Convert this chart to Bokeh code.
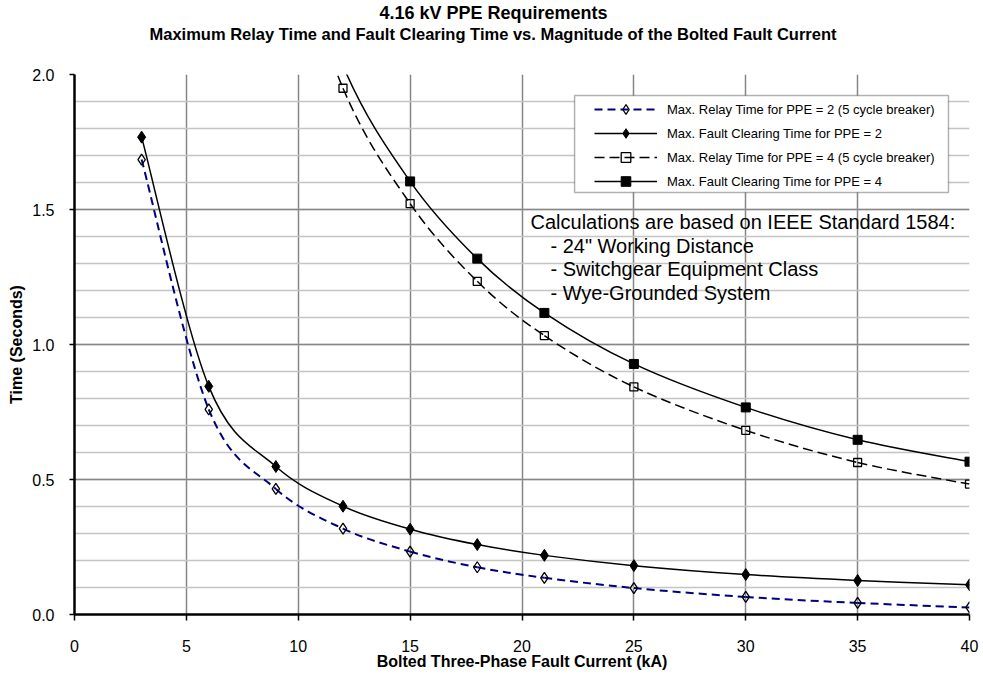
import numpy as np
from bokeh.plotting import figure
from bokeh.models import (Range1d, SingleIntervalTicker, Legend, LegendItem, Label,
                          Title, BoxAnnotation, NumeralTickFormatter)
from bokeh.embed import file_html
from bokeh.resources import INLINE

# ---------------- data ----------------
fault_current_ka = [3, 6, 9, 12, 15, 18, 21, 25, 30, 35, 40]
relay_time_ppe2 = [1.685, 0.760, 0.465, 0.318, 0.233, 0.175, 0.136, 0.098, 0.065, 0.043, 0.026]
clearing_time_ppe2 = [1.768, 0.845, 0.548, 0.401, 0.316, 0.259, 0.219, 0.181, 0.148, 0.126, 0.110]

fault_current_ka_ppe4 = [9, 12, 15, 18, 21, 25, 30, 35, 40]
relay_time_ppe4 = [2.68, 1.949, 1.522, 1.234, 1.033, 0.843, 0.682, 0.563, 0.483]
clearing_time_ppe4 = [2.76, 2.032, 1.604, 1.318, 1.117, 0.928, 0.767, 0.647, 0.566]

series_labels = [
    "Max. Relay Time for PPE = 2 (5 cycle breaker)",
    "Max. Fault Clearing Time for PPE = 2",
    "Max. Relay Time for PPE = 4 (5 cycle breaker)",
    "Max. Fault Clearing Time for PPE = 4",
]
title_lines = [
    "4.16 kV PPE Requirements",
    "Maximum Relay Time and Fault Clearing Time vs. Magnitude of the Bolted Fault Current",
]
note_lines = [
    "Calculations are based on IEEE Standard 1584:",
    "- 24\" Working Distance",
    "- Switchgear Equipment Class",
    "- Wye-Grounded System",
]
x_title = "Bolted Three-Phase Fault Current (kA)"
y_title = "Time (Seconds)"

FONT = "Liberation Sans"


def smooth_segments(xs, ys):
    """Cubic Bezier control points (Catmull-Rom style, like a smoothed spreadsheet line)."""
    x = np.asarray(xs, float)
    y = np.asarray(ys, float)
    n = len(x)
    xp = np.concatenate([[x[0]], x, [x[-1]]])
    yp = np.concatenate([[y[0]], y, [y[-1]]])
    return dict(
        x0=x[:-1], y0=y[:-1], x1=x[1:], y1=y[1:],
        cx0=x[:-1] + (xp[2:n + 1] - xp[0:n - 1]) / 6.0,
        cy0=y[:-1] + (yp[2:n + 1] - yp[0:n - 1]) / 6.0,
        cx1=x[1:] - (xp[3:n + 2] - xp[1:n]) / 6.0,
        cy1=y[1:] - (yp[3:n + 2] - yp[1:n]) / 6.0,
    )


p = figure(width=983, height=679, output_backend="svg", toolbar_location=None,
           title=None, x_range=Range1d(0, 40), y_range=Range1d(0, 2),
           min_border_left=74, min_border_right=14, min_border_top=74, min_border_bottom=65)
p.outline_line_color = None
p.background_fill_color = "white"
p.border_fill_color = "white"

# axes
p.xaxis.ticker = SingleIntervalTicker(interval=5, num_minor_ticks=0)
p.yaxis.ticker = SingleIntervalTicker(interval=0.5, num_minor_ticks=5)
p.yaxis.formatter = NumeralTickFormatter(format="0.0")
for ax in (p.xaxis[0], p.yaxis[0]):
    ax.axis_line_color = "black"
    ax.axis_line_width = 2.5
    ax.major_tick_line_color = "black"
    ax.major_tick_line_width = 1.5
    ax.major_tick_in = 0
    ax.minor_tick_line_color = None
    ax.major_label_text_font = FONT
    ax.major_label_text_font_size = "16px"
    ax.major_label_text_color = "black"
    ax.axis_label_text_font = FONT
    ax.axis_label_text_font_size = "16px"
    ax.axis_label_text_font_style = "bold"
    ax.axis_label_text_color = "black"
p.xaxis.major_tick_out = 6
p.yaxis.major_tick_out = 5
p.xaxis.major_label_standoff = 19
p.yaxis.major_label_standoff = 15
p.xaxis.axis_label = x_title
p.yaxis.axis_label = y_title
p.xaxis.axis_label_standoff = -2
p.yaxis.axis_label_standoff = 4

# grid
p.xgrid.grid_line_color = "#868686"
p.xgrid.grid_line_width = 1.5
p.ygrid.grid_line_color = "#868686"
p.ygrid.grid_line_width = 1.5
p.ygrid.minor_grid_line_color = "#c4c4c4"
p.ygrid.minor_grid_line_width = 1.5

# curves
s_r2 = smooth_segments(fault_current_ka, relay_time_ppe2)
s_c2 = smooth_segments(fault_current_ka, clearing_time_ppe2)
s_r4 = smooth_segments(fault_current_ka_ppe4, relay_time_ppe4)
s_c4 = smooth_segments(fault_current_ka_ppe4, clearing_time_ppe4)

l_r2 = p.bezier(line_color="#000080", line_width=2, line_dash="8 5", **s_r2)
l_c2 = p.bezier(line_color="black", line_width=1.5, **s_c2)
l_r4 = p.bezier(line_color="black", line_width=1.5, line_dash="10 5", **s_r4)
l_c4 = p.bezier(line_color="black", line_width=1.5, **s_c4)

m_r2 = p.scatter(fault_current_ka, relay_time_ppe2, marker="diamond", size=11,
                 fill_color=None, line_color="black", line_width=1.3)
m_c2 = p.scatter(fault_current_ka, clearing_time_ppe2, marker="diamond", size=12,
                 fill_color="black", line_color="black", line_width=1)
m_r4 = p.scatter(fault_current_ka_ppe4, relay_time_ppe4, marker="square", size=8,
                 fill_color=None, line_color="black", line_width=1.3)
m_c4 = p.scatter(fault_current_ka_ppe4, clearing_time_ppe4, marker="square", size=9,
                 fill_color="black", line_color="black", line_width=1)

# legend frame
box = BoxAnnotation(left=22.35, right=39.06, bottom=1.563, top=1.922,
                    fill_color="white", fill_alpha=1.0, line_color="black", line_width=1.5)
p.add_layout(box)

legend = Legend(items=[
    LegendItem(label=series_labels[0], renderers=[l_r2, m_r2]),
    LegendItem(label=series_labels[1], renderers=[l_c2, m_c2]),
    LegendItem(label=series_labels[2], renderers=[l_r4, m_r4]),
    LegendItem(label=series_labels[3], renderers=[l_c4, m_c4]),
], location=(520, 421), orientation="vertical", glyph_width=63, glyph_height=24,
    label_height=24, spacing=0, padding=0, margin=0, label_standoff=10,
    border_line_alpha=0, background_fill_alpha=0,
    label_text_font=FONT, label_text_font_size="13px", label_text_color="black")
p.add_layout(legend)

# note text
note_x = [20.38, 21.27, 21.27, 21.27]
note_y = [1.453, 1.365, 1.278, 1.190]
for t, xx, yy in zip(note_lines, note_x, note_y):
    p.add_layout(Label(x=xx, y=yy, text=t, text_font=FONT, text_font_size="20px",
                       text_baseline="middle", text_align="left", text_color="black"))

# titles (two lines, centred over the whole chart); a thin spacer sits next to the plot
spacer = Title(text=" ", text_font_size="1px", standoff=29)
t2 = Title(text=title_lines[1], align="left", offset=75, text_font=FONT,
           text_font_size="16.5px", text_font_style="bold", standoff=0, text_color="black")
t1 = Title(text=title_lines[0], align="left", offset=305, text_font=FONT,
           text_font_size="18px", text_font_style="bold", standoff=0, text_color="black")
p.add_layout(spacer, "above")
p.add_layout(t2, "above")
p.add_layout(t1, "above")

open("out.html", "w").write(file_html(p, INLINE))
